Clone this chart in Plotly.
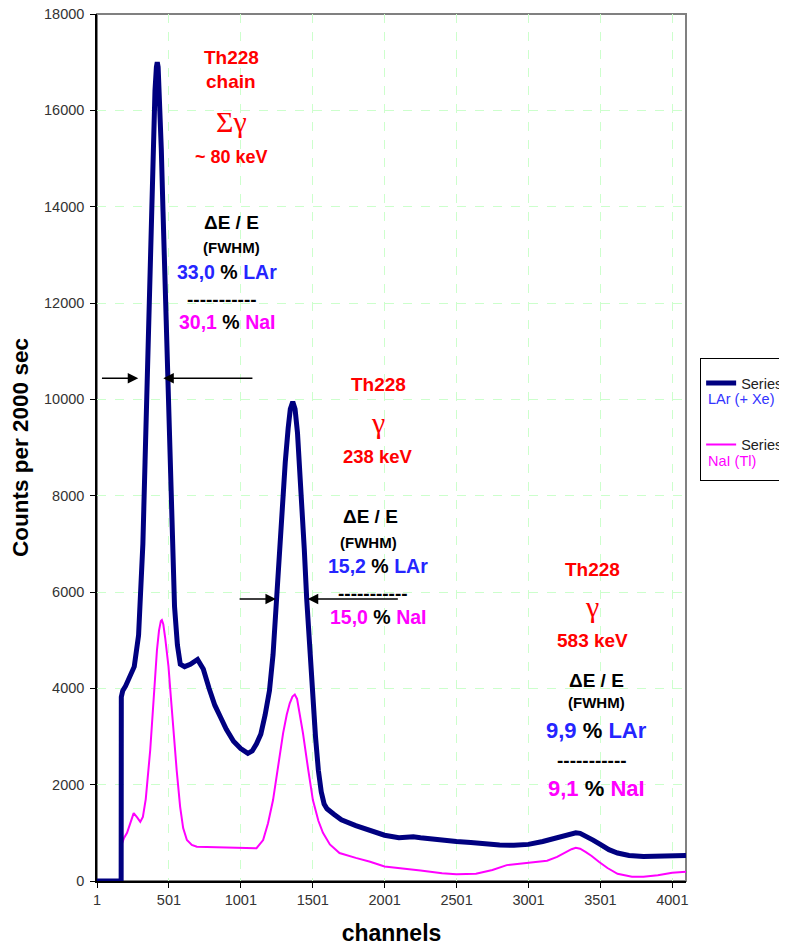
import plotly.graph_objects as go

# ---------------- data ----------------
ch_lar = [1, 169, 170, 180, 200, 230, 260, 290, 305, 320, 335, 350, 365, 380, 392, 404, 414, 420,
          426, 436, 448, 460, 475, 490, 505, 520, 540, 560, 580, 610, 650, 700, 740, 780, 820,
          860, 900, 950, 1000, 1050, 1080, 1110, 1140, 1170, 1200, 1225, 1249, 1270, 1290, 1310,
          1330, 1345, 1362, 1378, 1395, 1410, 1425, 1442, 1459, 1480, 1500, 1520, 1540, 1560,
          1580, 1600, 1650, 1700, 1800, 1900, 2000, 2100, 2200, 2250, 2300, 2400, 2500, 2600,
          2700, 2800, 2900, 3000, 3100, 3200, 3260, 3300, 3330, 3360, 3400, 3450, 3500, 3560,
          3620, 3700, 3800, 3900, 4000, 4096]
cnt_lar = [0, 0, 3820, 3950, 4050, 4250, 4450, 5100, 5900, 7000, 8700, 10300, 12300, 14200,
           15500, 16400, 16900, 17000, 16900, 16300, 15200, 13900, 12200, 10500, 8900, 7100,
           5700, 4900, 4500, 4450, 4500, 4600, 4400, 4000, 3650, 3400, 3150, 2900, 2750, 2650,
           2700, 2850, 3050, 3450, 3950, 4700, 5875, 6900, 7800, 8700, 9400, 9800, 9950, 9800,
           9300, 8600, 7800, 6900, 5850, 4800, 3900, 3000, 2300, 1850, 1600, 1500, 1380, 1270,
           1150, 1050, 950, 900, 920, 900, 880, 850, 820, 800, 770, 750, 740, 760, 820, 900, 960,
           990, 1000, 990, 940, 850, 760, 650, 580, 530, 510, 510, 520, 530]

ch_nai = [1, 169, 170, 190, 210, 240, 256, 280, 302, 320, 340, 371, 395, 418, 432, 445, 452,
          462, 475, 488, 498, 515, 533, 555, 579, 600, 626, 660, 695, 800, 900, 1000, 1110, 1156,
          1190, 1225, 1260, 1295, 1320, 1341, 1360, 1376, 1392, 1410, 1433, 1470, 1502, 1540,
          1572, 1620, 1687, 1800, 1900, 2000, 2100, 2250, 2400, 2500, 2636, 2750, 2850, 2950,
          3050, 3130, 3200, 3260, 3300, 3330, 3360, 3400, 3440, 3490, 3550, 3620, 3680, 3720,
          3800, 3900, 4000, 4096]
cnt_nai = [0, 0, 740, 900, 1000, 1300, 1410, 1320, 1230, 1330, 1700, 2720, 3800, 4800, 5200,
           5400, 5420, 5330, 5050, 4700, 4450, 3800, 3070, 2300, 1540, 1100, 850, 750, 710, 700,
           690, 680, 680, 850, 1200, 1680, 2400, 3070, 3450, 3690, 3830, 3870, 3780, 3500, 3070,
           2300, 1680, 1250, 1000, 760, 580, 480, 400, 300, 270, 220, 160, 140, 150, 230, 330,
           360, 400, 420, 500, 600, 660, 690, 670, 600, 520, 400, 270, 150, 105, 90, 90, 120,
           170, 190]

x_ticks = [1, 501, 1001, 1501, 2001, 2501, 3001, 3501, 4001]
x_tick_labels = ["1", "501", "1001", "1501", "2001", "2501", "3001", "3501", "4001"]
y_ticks = [0, 2000, 4000, 6000, 8000, 10000, 12000, 14000, 16000, 18000]
series_names = ["Series1", "Series2"]
series_labels = ["LAr (+ Xe)", "NaI (Tl)"]

FONT = "Liberation Sans, Arial, sans-serif"
SERIF = "Liberation Serif, Times New Roman, serif"
RED = "#FF0000"
BLUE = "#2525FF"
MAG = "#FF00FF"
NAVY = "#000080"
NB = "\u00a0"

fig = go.Figure()
fig.add_trace(go.Scatter(
    x=ch_nai, y=cnt_nai, mode="lines", line=dict(color=MAG, width=2),
    name=series_names[1] + "<br>" + NB, legendgroup="b", legendrank=2))
fig.add_trace(go.Scatter(
    x=ch_lar, y=cnt_lar, mode="lines", line=dict(color=NAVY, width=5),
    name=series_names[0] + "<br>" + NB, legendgroup="a", legendrank=1))

ann = []


def txt(x, y, s, size, color="black", family=FONT, bold=True):
    ann.append(dict(x=x, y=y, xref="x", yref="y", text=("<b>%s</b>" % s) if bold else s,
                    showarrow=False, font=dict(family=family, size=size, color=color),
                    xanchor="center", yanchor="middle"))


def col(s, c):
    return "<span style='color:%s'>%s</span>" % (c, s)


# group 1 (~80 keV)
txt(933, 17100, "Th228", 19, RED)
txt(933, 16590, "chain", 19, RED)
txt(933, 15760, "Σγ", 30, RED, SERIF, bold=False)
txt(933, 15030, "~ 80 keV", 18, RED)
txt(933, 13680, "ΔE / E", 19)
txt(933, 13160, "(FWHM)", 15)
txt(905, 12640, col("33,0", BLUE) + " % " + col("LAr", BLUE), 19.5)
txt(870, 12080, "-----------", 19)
txt(905, 11600, col("30,1", MAG) + " % " + col("NaI", MAG), 19.5)

# group 2 (238 keV)
txt(1957, 10300, "Th228", 19, RED)
txt(1957, 9510, "γ", 30, RED, SERIF, bold=False)
txt(1957, 8820, "238 keV", 18.5, RED)
txt(1905, 7560, "ΔE / E", 19)
txt(1890, 7020, "(FWHM)", 15)
txt(1957, 6540, col("15,2", BLUE) + " % " + col("LAr", BLUE), 19.5)
txt(1920, 5960, "-----------", 19)
txt(1957, 5480, col("15,0", MAG) + " % " + col("NaI", MAG), 19.5)

# group 3 (583 keV)
txt(3443, 6460, "Th228", 19, RED)
txt(3443, 5690, "γ", 30, RED, SERIF, bold=False)
txt(3443, 5000, "583 keV", 19, RED)
txt(3475, 4170, "ΔE / E", 19)
txt(3475, 3700, "(FWHM)", 15)
txt(3475, 3135, col("9,9", BLUE) + " % " + col("LAr", BLUE), 22)
txt(3443, 2510, "-----------", 19)
txt(3475, 1930, col("9,1", MAG) + " % " + col("NaI", MAG), 22)

# FWHM arrows
for (x_tip, x_tail, yv) in [(288, 25, 10440), (462, 1092, 10440),
                            (1245, 982, 5855), (1466, 2103, 5855)]:
    ann.append(dict(x=x_tip, y=yv, ax=x_tail, ay=yv, xref="x", yref="y", axref="x", ayref="y",
                    showarrow=True, arrowhead=2, arrowsize=1.4, arrowwidth=1.5,
                    arrowcolor="black", text=""))

# legend sub-labels (text boxes under the legend entries)
ann.append(dict(x=1.034, y=0.556, xref="paper", yref="paper", text=series_labels[0],
                showarrow=False, xanchor="left", yanchor="middle",
                font=dict(family=FONT, size=14.5, color="#3333FF")))
ann.append(dict(x=1.034, y=0.4844, xref="paper", yref="paper", text=series_labels[1],
                showarrow=False, xanchor="left", yanchor="middle",
                font=dict(family=FONT, size=14.5, color=MAG)))

fig.update_layout(
    width=779, height=938,
    margin=dict(l=89, r=101, t=6, b=65, autoexpand=False),
    paper_bgcolor="white", plot_bgcolor="white",
    font=dict(family=FONT, size=14, color="#333333"),
    annotations=ann,
    showlegend=True,
    legend=dict(x=1.024, y=0.603, xanchor="left", yanchor="top",
                bordercolor="black", borderwidth=1, bgcolor="rgba(0,0,0,0)",
                font=dict(family=FONT, size=14.5, color="#222222"),
                title=dict(text=NB, font=dict(size=6)),
                valign="top", traceorder="grouped", tracegroupgap=21,
                itemwidth=30),
    shapes=[dict(type="rect", xref="paper", yref="paper", x0=0, x1=1, y0=0, y1=1,
                 line=dict(color="#808080", width=2), layer="below")],
)

fig.update_xaxes(
    range=[1, 4096], tickmode="array", tickvals=x_ticks, ticktext=x_tick_labels,
    showgrid=True, gridcolor="#CCFFCC", griddash="dash", gridwidth=1,
    showline=True, linecolor="black", linewidth=1.5, zeroline=False,
    ticks="outside", ticklen=5, tickcolor="black", ticklabeloverflow="allow",
    tickfont=dict(family=FONT, size=14.5, color="#333333"),
    title=dict(text="<b>channels</b>", font=dict(family=FONT, size=23, color="black"), standoff=19),
)
fig.update_yaxes(
    range=[0, 18000], tickmode="array", tickvals=y_ticks, tickformat="d",
    showgrid=True, gridcolor="#CCFFCC", griddash="dash", gridwidth=1,
    showline=True, linecolor="black", linewidth=1.5, zeroline=False,
    ticks="outside", ticklen=5, tickcolor="black", ticklabelstandoff=3,
    ticklabeloverflow="allow",
    tickfont=dict(family=FONT, size=14.5, color="#333333"),
    title=dict(text="<b>Counts per 2000 sec</b>", font=dict(family=FONT, size=22.5, color="black"),
               standoff=12),
)

fig.write_html("out.html")
